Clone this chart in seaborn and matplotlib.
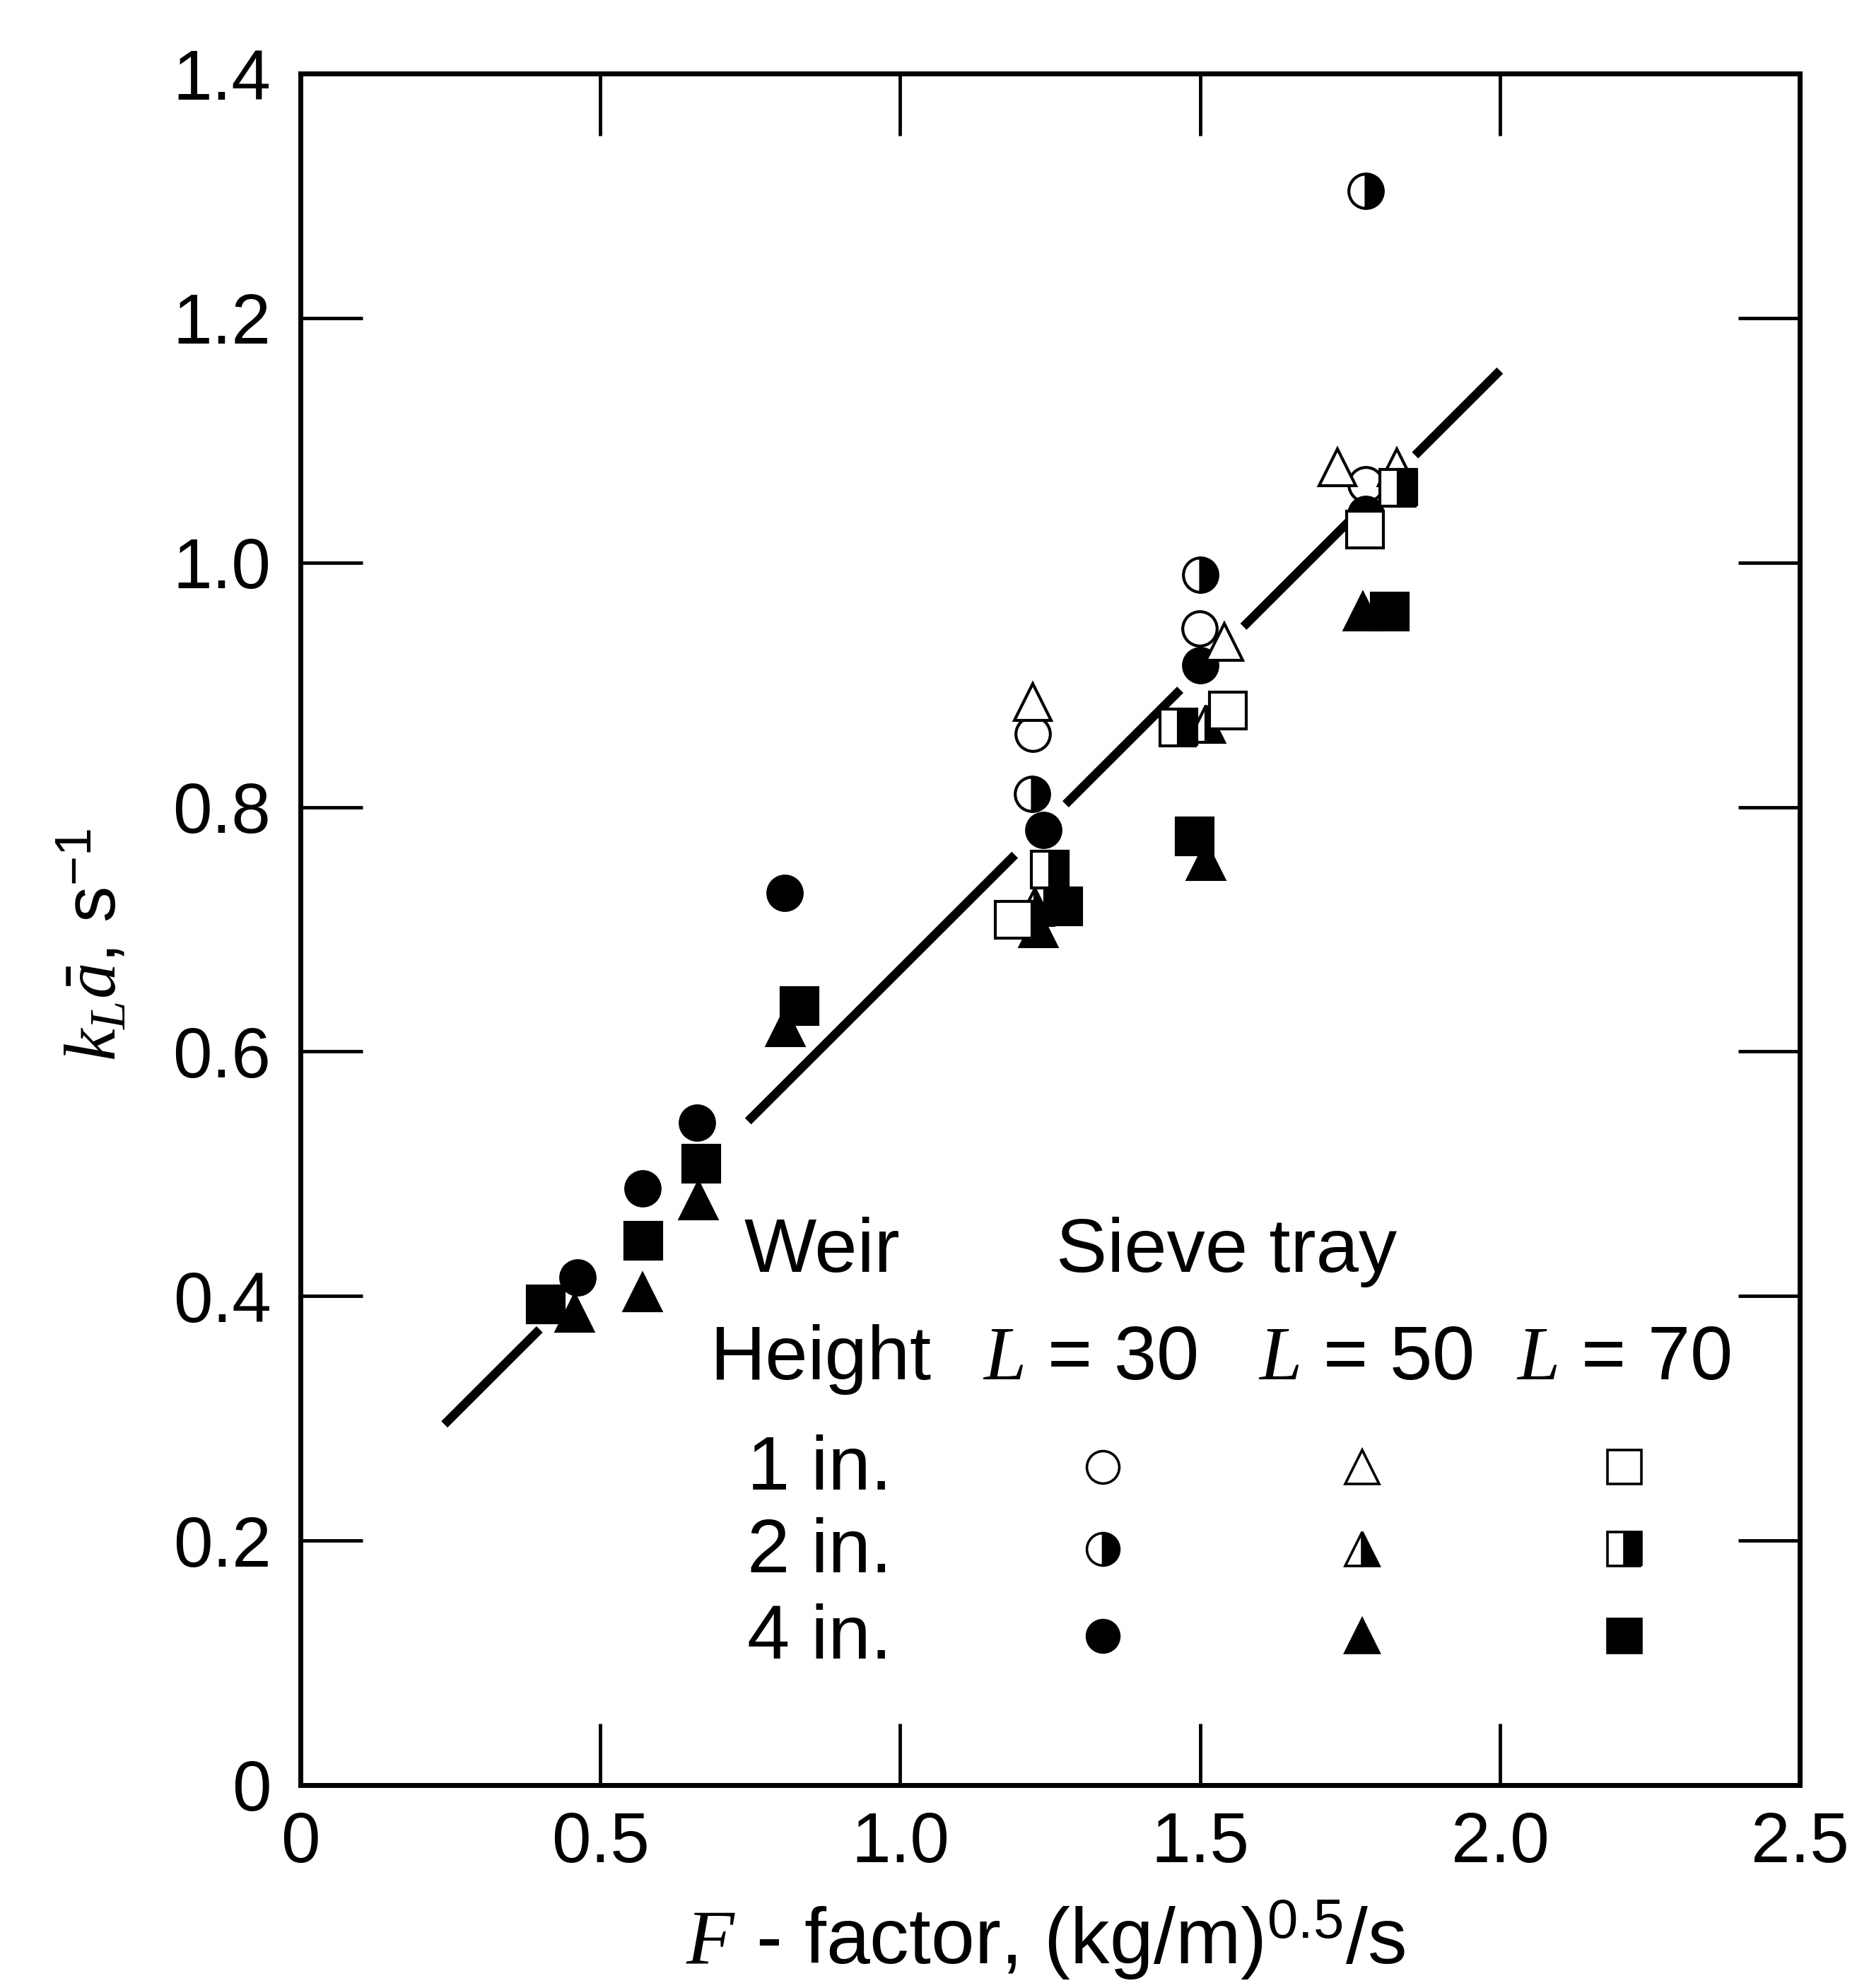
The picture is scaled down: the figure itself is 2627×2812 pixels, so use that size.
import matplotlib
matplotlib.use("Agg")
import matplotlib.pyplot as plt
import pandas as pd
import seaborn as sns

# ---------------- data ----------------
# Weir height 1 in. / 2 in. / 4 in.  x  sieve tray L = 30 / 50 / 70
x_1in_L30 = [1.221, 1.499, 1.776]
y_1in_L30 = [0.860, 0.946, 1.064]
x_2in_L30 = [1.220, 1.500, 1.776]
y_2in_L30 = [0.811, 0.990, 1.304]
x_4in_L30 = [0.462, 0.570, 0.661, 0.807, 1.239, 1.500, 1.776]
y_4in_L30 = [0.415, 0.488, 0.542, 0.730, 0.781, 0.916, 1.040]

x_1in_L50 = [1.221, 1.541, 1.729, 1.828]
y_1in_L50 = [0.886, 0.935, 1.078, 1.078]
x_2in_L50 = [1.224, 1.510]
y_2in_L50 = [0.718, 0.868]
x_4in_L50 = [0.457, 0.570, 0.664, 0.808, 1.230, 1.510, 1.771]
y_4in_L50 = [0.386, 0.403, 0.478, 0.620, 0.701, 0.756, 0.960]

x_1in_L70 = [1.189, 1.546, 1.775]
y_1in_L70 = [0.708, 0.879, 1.027]
x_2in_L70 = [1.249, 1.464, 1.830]
y_2in_L70 = [0.749, 0.865, 1.061]
x_4in_L70 = [0.409, 0.572, 0.668, 0.832, 1.272, 1.491, 1.816]
y_4in_L70 = [0.393, 0.445, 0.508, 0.637, 0.719, 0.776, 0.960]

# correlation line
fit_x = [0.24, 2.00]
fit_y = [0.295, 1.157]

xticks = [0.0, 0.5, 1.0, 1.5, 2.0, 2.5]
xticklabels = ["0", "0.5", "1.0", "1.5", "2.0", "2.5"]
yticks = [0.0, 0.2, 0.4, 0.6, 0.8, 1.0, 1.2, 1.4]
yticklabels = ["0", "0.2", "0.4", "0.6", "0.8", "1.0", "1.2", "1.4"]

weir_heights = ["1 in.", "2 in.", "4 in."]
tray_lengths = ["30", "50", "70"]

xlabel = r"$F$ - factor, (kg/m)$^{0.5}$/s"
ylabel = r"$k_L\bar{a}$, s$^{-1}$"

# ---------------- style ----------------
sns.set_theme(style="white")
plt.rcParams.update({
    "font.family": ["Liberation Sans", "DejaVu Sans"],
    "mathtext.fontset": "custom",
    "mathtext.rm": "Liberation Sans",
    "mathtext.it": "Liberation Serif:italic",
    "mathtext.bf": "Liberation Sans:bold",
    "lines.scale_dashes": False,
    "axes.edgecolor": "black",
    "axes.labelcolor": "black",
    "axes.linewidth": 5,
    "text.color": "black",
    "xtick.color": "black",
    "ytick.color": "black",
})

fig = plt.figure(figsize=(26.27, 28.12), dpi=100)
fig.patch.set_facecolor("white")
ax = fig.add_axes([0.1618, 0.1021, 0.8074, 0.8609])
ax.set_facecolor("white")

# correlation line (long dashes, interrupted through the low-F data)
fit_df = pd.DataFrame({"x": fit_x, "y": fit_y})
sns.lineplot(data=fit_df, x="x", y="y", ax=ax, color="black", lw=9,
             linestyle=(0, (137, 300, 384, 73, 165, 91, 156, 91, 216, 100)),
             estimator=None, sort=False, zorder=2)

markers = {"30": "o", "50": "^", "70": "s"}
msizes = {"30": 35, "50": 37, "70": 37}

series = [
    ("1 in.", "30", x_1in_L30, y_1in_L30),
    ("2 in.", "30", x_2in_L30, y_2in_L30),
    ("4 in.", "30", x_4in_L30, y_4in_L30),
    ("1 in.", "50", x_1in_L50, y_1in_L50),
    ("2 in.", "50", x_2in_L50, y_2in_L50),
    ("4 in.", "50", x_4in_L50, y_4in_L50),
    ("1 in.", "70", x_1in_L70, y_1in_L70),
    ("2 in.", "70", x_2in_L70, y_2in_L70),
    ("4 in.", "70", x_4in_L70, y_4in_L70),
]


def fill_kws(h):
    if h == "1 in.":
        return dict(fillstyle="full", markerfacecolor="white")
    if h == "2 in.":
        return dict(fillstyle="right", markerfacecolor="black",
                    markerfacecoloralt="white")
    return dict(fillstyle="full", markerfacecolor="black")


for h, L, xs, ys in series:
    df = pd.DataFrame({"x": xs, "y": ys})
    sns.lineplot(data=df, x="x", y="y", ax=ax, estimator=None, sort=False,
                 linestyle="none", marker=markers[L], markersize=msizes[L],
                 color="black", markeredgecolor="black", markeredgewidth=3,
                 zorder=3, **fill_kws(h))

# ---------------- axes ----------------
ax.set_xlim(0, 2.5)
ax.set_ylim(0, 1.4)
ax.set_xticks(xticks, xticklabels)
ax.set_yticks(yticks, yticklabels)
ax.tick_params(direction="in", length=63, width=3.5, top=True, right=True,
               bottom=True, left=True, labelsize=72)
ax.tick_params(axis="x", pad=26)
ax.tick_params(axis="y", pad=30)
for sp in ax.spines.values():
    sp.set_visible(True)
    sp.set_linewidth(5)
    sp.set_color("black")

ax.set_xlabel(xlabel, fontsize=80, color="black")
ax.xaxis.set_label_coords(0.497, -0.1045)
ax.xaxis.label.set_va("baseline")
ax.set_ylabel(ylabel, fontsize=74, color="black")
ax.yaxis.set_label_coords(-0.137, 0.491)
ax.yaxis.label.set_va("center")

# ---------------- legend table ----------------
lt = dict(transform=ax.transAxes, fontsize=78, va="baseline", ha="left",
          color="black")
ax.text(0.296, 0.300, "Weir", **lt)
ax.text(0.504, 0.300, "Sieve tray", **lt)
ax.text(0.273, 0.237, "Height", **lt)
col_text_x = [0.455, 0.639, 0.811]
for cx, L in zip(col_text_x, tray_lengths):
    ax.text(cx, 0.237, r"$L$ = " + L, **lt)
row_y_text = [0.1726, 0.1244, 0.074]
row_y_mark = [0.186, 0.138, 0.087]
col_mark_x = [0.535, 0.708, 0.883]
for h, ty, my in zip(weir_heights, row_y_text, row_y_mark):
    ax.text(0.298, ty, h, **lt)
    for mx, L in zip(col_mark_x, tray_lengths):
        ax.plot([mx], [my], transform=ax.transAxes, marker=markers[L],
                markersize=msizes[L] - 2, color="black",
                markeredgecolor="black", markeredgewidth=2.6,
                linestyle="none", clip_on=False, zorder=3, **fill_kws(h))

fig.savefig("out.png", dpi=100, facecolor="white")
